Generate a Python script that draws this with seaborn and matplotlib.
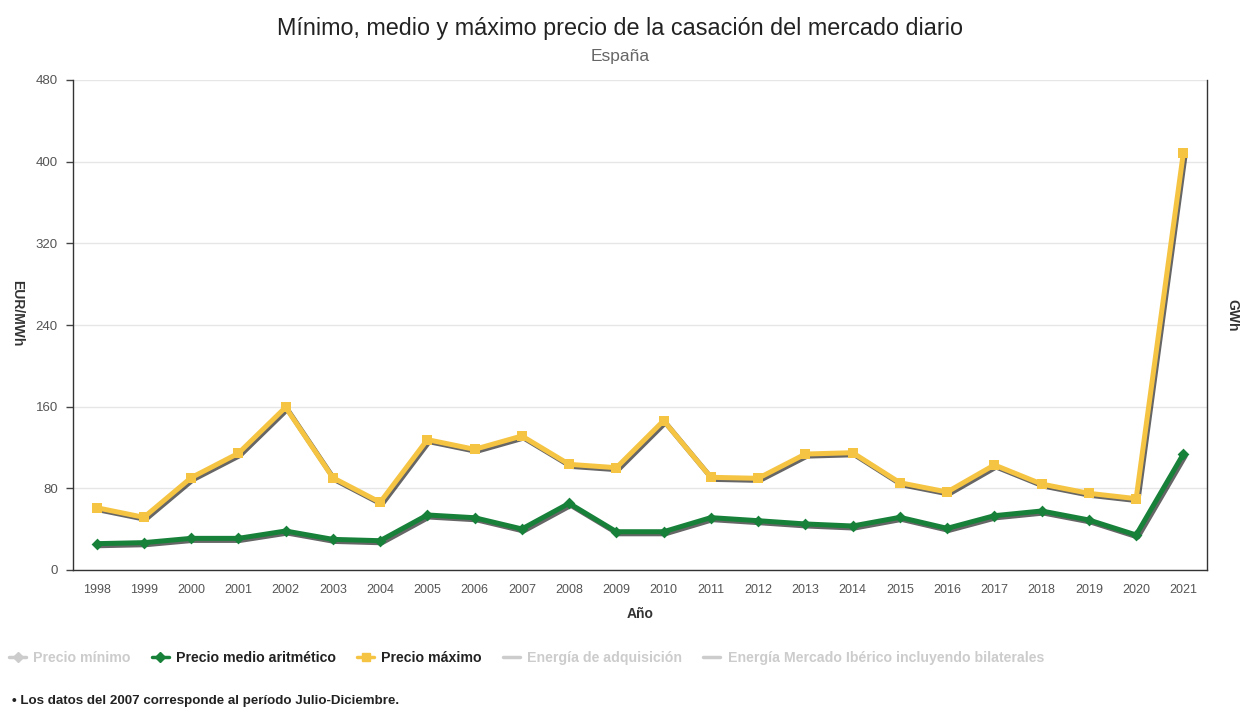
import matplotlib
matplotlib.use("Agg")
import matplotlib.pyplot as plt
import matplotlib.patheffects as pe
from matplotlib.lines import Line2D
import numpy as np
import pandas as pd
import seaborn as sns

years = [str(y) for y in range(1998, 2022)]
precio_medio = [25.8, 26.8, 31.0, 31.0, 38.2, 30.0, 28.7, 53.9, 51.2, 40.2, 65.3, 37.5,
                37.5, 51.3, 48.3, 45.1, 43.1, 51.6, 40.8, 53.2, 57.8, 49.0, 34.3, 113.6]
precio_maximo = [61.0, 51.6, 90.4, 114.3, 159.4, 90.4, 66.3, 127.7, 118.2, 131.3, 103.5, 100.2,
                 146.3, 90.8, 89.8, 113.6, 114.9, 85.5, 76.4, 102.9, 84.2, 75.1, 69.9, 408.8]
y_ticks = [0, 80, 160, 240, 320, 400, 480]

GREEN = "#17813a"
YELLOW = "#f5c443"
HIDDEN = "#cccccc"

sns.set_theme(style="white")
plt.rcParams["font.family"] = ["Liberation Sans", "DejaVu Sans"]

df = pd.DataFrame({"pos": np.arange(len(years)), "Año": years,
                   "medio": precio_medio, "maximo": precio_maximo})

fig = plt.figure(figsize=(12.4, 7.07), dpi=100)
ax = fig.add_axes([73 / 1240, 1 - 570 / 707, (1207 - 73) / 1240, (570 - 80) / 707])

shadow = [pe.SimpleLineShadow(offset=(1.3, -1.5), shadow_color="black", alpha=0.6),
          pe.Normal()]

# series lines (with drop shadow)
sns.lineplot(data=df, x="pos", y="medio", ax=ax, color=GREEN, lw=3.6, zorder=3)
sns.lineplot(data=df, x="pos", y="maximo", ax=ax, color=YELLOW, lw=3.6, zorder=4)
for ln in ax.lines:
    ln.set_path_effects(shadow)

# point markers on top
sns.scatterplot(data=df, x="pos", y="medio", ax=ax, color=GREEN, marker="D", s=36,
                edgecolor=GREEN, linewidth=0, zorder=5)
sns.scatterplot(data=df, x="pos", y="maximo", ax=ax, color=YELLOW, marker="s", s=62,
                edgecolor=YELLOW, linewidth=0, zorder=6)

ax.set_xlim(-0.5, len(years) - 0.5)
ax.set_ylim(0, 480)
ax.set_yticks(y_ticks)
ax.set_yticklabels([str(v) for v in y_ticks], fontsize=9.5, color="#555555")
ax.set_xticks(np.arange(len(years)))
ax.set_xticklabels(years, fontsize=9, color="#555555")
ax.set_xticks(np.arange(len(years) + 1) - 0.5, minor=True)
ax.tick_params(axis="x", which="major", length=0, pad=10)
ax.tick_params(axis="x", which="minor", length=5, width=1, color="#444444", direction="out")
ax.tick_params(axis="y", which="major", length=5, width=1, color="#444444",
               direction="out", pad=6, left=True)

ax.yaxis.grid(True, color="#e6e6e6", lw=1)
ax.xaxis.grid(False)
ax.set_axisbelow(True)
for side in ["left", "bottom", "right"]:
    ax.spines[side].set_visible(True)
    ax.spines[side].set_color("#333333")
    ax.spines[side].set_linewidth(1)
ax.spines["top"].set_visible(False)

ax.set_xlabel("Año", fontsize=10, fontweight="bold", color="#333333", labelpad=8)
ax.set_ylabel("EUR/MWh", fontsize=10, fontweight="bold", color="#333333",
              rotation=-90, va="center")
ax.yaxis.set_label_coords(-0.049, 0.525)
fig.text(1232 / 1240, 1 - 315 / 707, "GWh", fontsize=10, fontweight="bold",
         color="#333333", rotation=-90, ha="center", va="center")

fig.text(0.5, 1 - 28 / 707, "Mínimo, medio y máximo precio de la casación del mercado diario",
         ha="center", va="center", fontsize=16.8, color="#222222")
fig.text(0.5, 1 - 57 / 707, "España", ha="center", va="center", fontsize=12.5, color="#666666")

handles = [
    Line2D([], [], color=HIDDEN, lw=2.5, marker="D", markersize=5),
    Line2D([], [], color=GREEN, lw=2.5, marker="D", markersize=5),
    Line2D([], [], color=YELLOW, lw=2.5, marker="s", markersize=6),
    Line2D([], [], color=HIDDEN, lw=2.5),
    Line2D([], [], color=HIDDEN, lw=2.5),
]
labels = ["Precio mínimo", "Precio medio aritmético", "Precio máximo",
          "Energía de adquisición", "Energía Mercado Ibérico incluyendo bilaterales"]
fig.legend(handles, labels, loc="center left", bbox_to_anchor=(-0.003, 1 - 658 / 707),
           ncol=5, frameon=False, handlelength=1.2, handletextpad=0.5,
           columnspacing=1.5, prop={"size": 10.2, "weight": "bold"},
           labelcolor=[HIDDEN, "#222222", "#222222", HIDDEN, HIDDEN])

fig.text(12 / 1240, 1 - 701 / 707, "• Los datos del 2007 corresponde al período Julio-Diciembre.",
         fontsize=9.6, fontweight="bold", color="#222222", ha="left", va="center")

fig.savefig("out.png", dpi=100)
